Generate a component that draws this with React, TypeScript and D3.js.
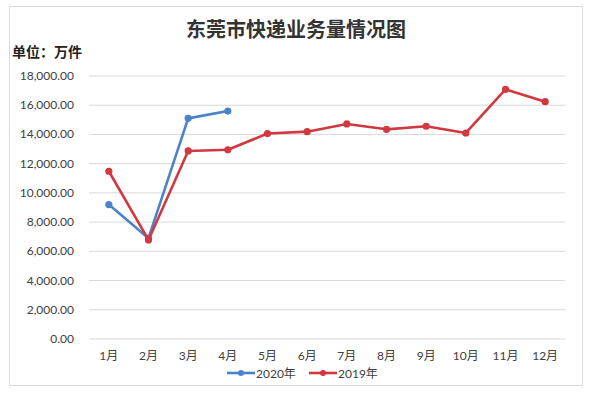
import React from "react";
import { scaleBand, scaleLinear, line, format } from "d3";

const months = ["1月", "2月", "3月", "4月", "5月", "6月", "7月", "8月", "9月", "10月", "11月", "12月"];
const values2020 = [9200, 6900, 15100, 15600];
const values2019 = [11480, 6780, 12870, 12950, 14060, 14190, 14720, 14350, 14560, 14100, 17090, 16240];
const yTicks = [0, 2000, 4000, 6000, 8000, 10000, 12000, 14000, 16000, 18000];

const W = 600;
const H = 394;
const left = 89;
const right = 565;
const top = 76;
const bottom = 339;
const blue = "#4a84c6";
const red = "#d1383f";
const font = "Lato, 'Noto Sans CJK SC', sans-serif";

const App = () => {
  const x = scaleBand<string>().domain(months).range([left, right]);
  const y = scaleLinear().domain([0, 18000]).range([bottom, top]);
  const cx = (i: number) => (x(months[i]) as number) + x.bandwidth() / 2;
  const path = line<number>().x((d, i) => cx(i)).y(d => y(d));
  const fmt = format(",.2f");

  const series = [
    { name: "2020年", color: blue, data: values2020 },
    { name: "2019年", color: red, data: values2019 },
  ];

  return (
    <svg width={W} height={H} style={{ position: "absolute", left: 0, top: 0, background: "#fff" }}>
      <rect x={9.5} y={6.5} width={573} height={379} fill="#fff" stroke="#d9d9d9" />
      <text x={296} y={37} textAnchor="middle" fontSize={20} fontWeight="bold" fill="#333" fontFamily="'Noto Sans CJK SC', sans-serif">
        东莞市快递业务量情况图
      </text>
      <text x={12} y={57} fontSize={14} fontWeight="bold" fill="#222" fontFamily="'Noto Sans CJK SC', sans-serif">
        单位：万件
      </text>
      {yTicks.map(t => (
        <g key={t}>
          <line x1={left} x2={right} y1={y(t)} y2={y(t)} stroke="#d9d9d9" strokeWidth={1} />
          <text x={74} y={y(t) + 4} textAnchor="end" fontSize={12} fill="#404040" fontFamily={font}>
            {fmt(t)}
          </text>
        </g>
      ))}
      {months.map((m, i) => (
        <text key={m} x={cx(i)} y={360} textAnchor="middle" fontSize={12} fill="#404040" fontFamily={font}>
          {m}
        </text>
      ))}
      {series.map(s => (
        <g key={s.name}>
          <path d={path(s.data) || ""} fill="none" stroke={s.color} strokeWidth={2.6} strokeLinejoin="round" />
          {s.data.map((d, i) => (
            <circle key={i} cx={cx(i)} cy={y(d)} r={3.6} fill={s.color} />
          ))}
        </g>
      ))}
      {series.map((s, i) => {
        const lx = 227 + i * 82;
        return (
          <g key={s.name}>
            <line x1={lx} x2={lx + 28} y1={373} y2={373} stroke={s.color} strokeWidth={2.6} />
            <circle cx={lx + 14} cy={373} r={3} fill={s.color} />
            <text x={lx + 29} y={377.5} fontSize={12} fill="#404040" fontFamily={font}>
              {s.name}
            </text>
          </g>
        );
      })}
    </svg>
  );
};

export default App;
